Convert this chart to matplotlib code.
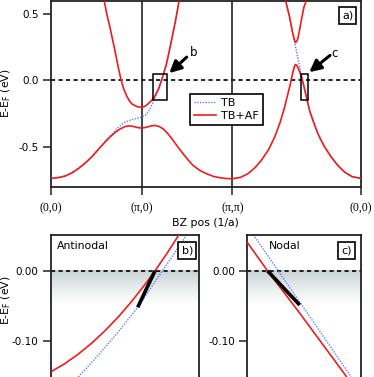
import matplotlib
matplotlib.use('Agg')
import matplotlib.pyplot as plt
import numpy as np
from matplotlib.patches import Rectangle

plt.rcParams['font.family'] = ['DejaVu Sans']
plt.rcParams['axes.unicode_minus'] = False
plt.rcParams['mathtext.default'] = 'regular'

RED = '#f01c1c'
BLUE = '#5f7cff'
FRAME = '#222222'

# k path in units of pi/a: (0,0) -> (pi,0) -> (pi,pi) -> (0,0)
k_ticks = [0, 1, 2, 2 + np.sqrt(2)]
k_labels = ['(0,0)', '(\u03c0,0)', '(\u03c0,\u03c0)', '(0,0)']

# TB+AF, lower band (whole path)
low_k = [0.000, 0.080, 0.154, 0.230, 0.301, 0.375, 0.448, 0.520, 0.595, 0.650,
         0.705, 0.760, 0.815, 0.860, 0.900, 0.950, 1.000, 1.050, 1.100, 1.145,
         1.190, 1.237, 1.290, 1.347, 1.400, 1.457, 1.510, 1.567, 1.640, 1.715,
         1.790, 1.861, 1.930, 2.000, 2.090, 2.173, 2.250, 2.320, 2.400, 2.467,
         2.530, 2.577, 2.610, 2.632, 2.668, 2.685, 2.698, 2.712, 2.724, 2.761,
         2.797, 2.852, 2.900, 2.944, 3.010, 3.091, 3.160, 3.238, 3.320, 3.414]
low_e = [-0.735, -0.730, -0.718, -0.695, -0.662, -0.622, -0.575, -0.520, -0.463, -0.425,
         -0.392, -0.365, -0.347, -0.341, -0.344, -0.353, -0.358, -0.352, -0.342, -0.338,
         -0.345, -0.363, -0.400, -0.450, -0.500, -0.550, -0.595, -0.638, -0.675, -0.700,
         -0.720, -0.730, -0.736, -0.738, -0.728, -0.700, -0.655, -0.600, -0.520, -0.425,
         -0.310, -0.200, -0.110, -0.050, 0.060, 0.105, 0.120, 0.112, 0.095, 0.035,
         -0.062, -0.225, -0.320, -0.400, -0.490, -0.575, -0.635, -0.688, -0.722, -0.735]

# TB+AF, upper band around (pi,0)
up1_k = [0.586, 0.618, 0.650, 0.678, 0.705, 0.740, 0.771, 0.800, 0.834, 0.862,
         0.889, 0.947, 1.000, 1.040, 1.072, 1.110, 1.145, 1.185, 1.219, 1.250,
         1.274, 1.300, 1.329, 1.358, 1.384, 1.413]
up1_e = [0.600, 0.490, 0.400, 0.310, 0.225, 0.105, 0.010, -0.060, -0.115, -0.150,
         -0.175, -0.196, -0.202, -0.193, -0.175, -0.150, -0.120, -0.065, 0.000, 0.068,
         0.125, 0.205, 0.300, 0.395, 0.487, 0.600]

# TB+AF, upper band near the AF zone boundary on the nodal cut
up2_k = [2.588, 2.632, 2.668, 2.684, 2.698, 2.712, 2.724, 2.742, 2.761, 2.790, 2.817]
up2_e = [0.600, 0.475, 0.350, 0.305, 0.285, 0.295, 0.315, 0.380, 0.450, 0.550, 0.600]

# TB band, two visible pieces
tb1_k = [0.000, 0.154, 0.301, 0.448, 0.558, 0.620, 0.668, 0.720, 0.770, 0.815,
         0.889, 0.950, 1.000, 1.040, 1.072, 1.100, 1.127, 1.155, 1.182, 1.200,
         1.219, 1.250, 1.274, 1.300, 1.329, 1.358, 1.384, 1.413]
tb1_e = [-0.735, -0.718, -0.662, -0.575, -0.488, -0.440, -0.405, -0.368, -0.337, -0.313,
         -0.295, -0.284, -0.275, -0.262, -0.238, -0.205, -0.163, -0.118, -0.075, -0.042,
         0.000, 0.068, 0.125, 0.205, 0.300, 0.395, 0.487, 0.600]
tb2_k = [2.588, 2.632, 2.668, 2.698, 2.724, 2.750, 2.775, 2.800, 2.852, 2.900,
         2.944, 3.010, 3.091, 3.160, 3.238, 3.320, 3.414]
tb2_e = [0.600, 0.475, 0.350, 0.250, 0.165, 0.080, -0.005, -0.080, -0.225, -0.320,
         -0.400, -0.490, -0.575, -0.635, -0.688, -0.722, -0.735]

# zoom windows (k range, E range)
box_b = [1.127, 1.281]
box_c = [2.753, 2.834]
box_e = [-0.145, 0.05]

# panel b: antinodal cut
b_red_k = [1.1267, 1.1416, 1.1554, 1.1693, 1.1832, 1.1971, 1.2109, 1.2248, 1.2352, 1.2474, 1.2595]
b_red_e = [-0.1438, -0.1318, -0.1184, -0.1029, -0.0852, -0.0654, -0.0435, -0.0194, 0.0, 0.0243, 0.0500]
b_tb_k = [1.1554, 1.1762, 1.1971, 1.2172, 1.2300, 1.2428, 1.2560, 1.2681]
b_tb_e = [-0.151, -0.120, -0.0867, -0.0519, -0.0262, 0.0, 0.0262, 0.0514]
b_kink_k = [1.2352, 1.2172]
b_kink_e = [0.0, -0.0519]

# panel c: nodal cut
c_red_k = [2.7530, 2.7675, 2.7894, 2.8238]
c_red_e = [0.0405, 0.0, -0.0573, -0.150]
c_tb_k = [2.7573, 2.7751, 2.7989, 2.8274]
c_tb_e = [0.0514, 0.0, -0.0686, -0.151]
c_kink_k = [2.7675, 2.7905]
c_kink_e = [0.0, -0.0486]

W, H = 374, 377
fig = plt.figure(figsize=(W / 100, H / 100), dpi=100)


def rect(l, t, r, b):
    ''' pixel box -> figure fraction rect '''
    return [l / W, 1 - b / H, (r - l) / W, (b - t) / H]


def style_frame(ax):
    for s in ax.spines.values():
        s.set_linewidth(1.3)
        s.set_color(FRAME)
    ax.tick_params(direction='out', length=6, width=1.1, color=FRAME, labelsize=7.5, pad=3)


def zero_line(ax):
    ax.axhline(0, color='k', ls=(0, (2.5, 2)), lw=1.2, zorder=1)


def boxed(ax, x, y, s):
    ax.text(x, y, s, transform=ax.transAxes, ha='center', va='center', fontsize=8,
            bbox=dict(boxstyle='square,pad=0.3', fc='w', ec='k', lw=1.2), zorder=6)


# ---- a) band structure along the path
ax = fig.add_axes(rect(51, 0.5, 360.5, 187))
style_frame(ax)
zero_line(ax)
for kv in k_ticks[1:3]:
    ax.axvline(kv, color=FRAME, lw=1.2, zorder=1)
l_tb, = ax.plot(tb1_k, tb1_e, color=BLUE, lw=1.0, ls=(0, (1, 1)), zorder=2, label='TB')
ax.plot(tb2_k, tb2_e, color=BLUE, lw=1.0, ls=(0, (1, 1)), zorder=2)
l_af, = ax.plot(low_k, low_e, color=RED, lw=1.2, zorder=3, label='TB+AF')
ax.plot(up1_k, up1_e, color=RED, lw=1.2, zorder=3)
ax.plot(up2_k, up2_e, color=RED, lw=1.2, zorder=3)
for bx in (box_b, box_c):
    ax.add_patch(Rectangle((bx[0], box_e[0]), bx[1] - bx[0], box_e[1] - box_e[0],
                           fill=False, ec='k', lw=1.1, zorder=4))

arrow = dict(arrowstyle='-|>,head_length=0.7,head_width=0.35', color='k', lw=2.2,
             shrinkA=0, shrinkB=0, mutation_scale=10)
ax.annotate('', xy=(1.305, 0.055), xytext=(1.497, 0.175), arrowprops=arrow, zorder=5)
ax.annotate('', xy=(2.849, 0.062), xytext=(3.078, 0.188), arrowprops=arrow, zorder=5)
ax.text(1.578, 0.212, 'b', fontsize=8.5, ha='center', va='center')
ax.text(3.133, 0.205, 'c', fontsize=8.5, ha='center', va='center')

ax.set_xlim(k_ticks[0], k_ticks[-1])
ax.set_ylim(-0.8, 0.6)
ax.set_xticks(k_ticks)
ax.set_xticklabels(k_labels, fontfamily='Liberation Serif', fontsize=8.5)
ax.tick_params(axis='x', pad=5)
ax.set_yticks([0.5, 0.0, -0.5])
ax.set_yticklabels(['0.5', '0.0', '-0.5'])
ax.set_xlabel('BZ pos (1/a)', fontsize=7.8, labelpad=3)

leg = ax.legend(handles=[l_tb, l_af], loc='upper left', bbox_to_anchor=(0.448, 0.497),
                frameon=True, fancybox=False, edgecolor='k', framealpha=1, fontsize=8,
                handlelength=2.0, borderpad=0.35, labelspacing=0.25, handletextpad=0.5,
                borderaxespad=0)
leg.get_frame().set_linewidth(1.2)
boxed(ax, 0.958, 0.921, 'a)')

fig.text(6 / W, 1 - 93.5 / H, 'E-E$_F$ (eV)', rotation=90, ha='center', va='center', fontsize=7.8)

# ---- b) and c) zooms at E_F
grad = np.ones((100, 1, 4))
grad[..., :3] = [0.78, 0.82, 0.82]
grad[:, 0, 3] = np.linspace(1, 0, 100) ** 1.3

panels = [
    (rect(51, 235, 199, 377), box_b, b_red_k, b_red_e, b_tb_k, b_tb_e, b_kink_k, b_kink_e,
     'Antinodal', 0.04, 'b)', 0.922),
    (rect(247.3, 235, 360.5, 377), box_c, c_red_k, c_red_e, c_tb_k, c_tb_e, c_kink_k, c_kink_e,
     'Nodal', 0.19, 'c)', 0.874),
]
for pos, xr, rk, re_, tk, te, kk, ke, name, nx, tag, tx in panels:
    bx = fig.add_axes(pos)
    style_frame(bx)
    bx.spines['bottom'].set_visible(False)
    bx.imshow(grad, extent=[xr[0], xr[1], -0.05, 0], aspect='auto', origin='upper', zorder=0)
    zero_line(bx)
    bx.plot(tk, te, color=BLUE, lw=1.0, ls=(0, (1, 1)), zorder=2)
    bx.plot(rk, re_, color=RED, lw=1.2, zorder=3)
    bx.plot(kk, ke, color='k', lw=2.6, solid_capstyle='butt', zorder=4)
    bx.set_xlim(xr)
    bx.set_ylim(-0.151, 0.051)
    bx.set_xticks([])
    bx.set_yticks([0.0, -0.1])
    bx.set_yticklabels(['0.00', '-0.10'])
    bx.text(nx, 0.922, name, transform=bx.transAxes, ha='left', va='center', fontsize=7.8)
    boxed(bx, tx, 0.889, tag)

fig.text(6 / W, 1 - 300 / H, 'E-E$_F$ (eV)', rotation=90, ha='center', va='center', fontsize=7.8)

fig.savefig('out.png', dpi=100)
